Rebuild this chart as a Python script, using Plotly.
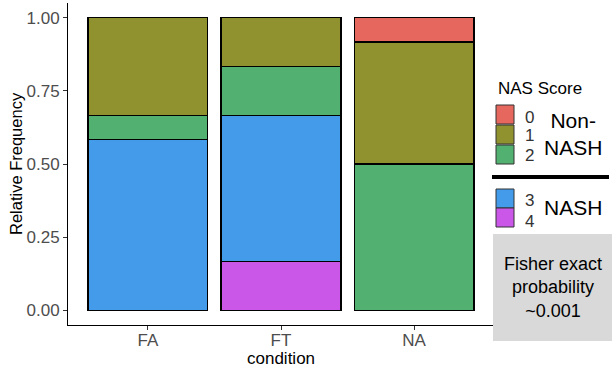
import plotly.graph_objects as go

conditions = ["FA", "FT", "NA"]
scores = ["4", "3", "2", "1", "0"]  # stacking order bottom -> top
freq = {
    "4": [0.0, 2/12, 0.0],
    "3": [7/12, 6/12, 0.0],
    "2": [1/12, 2/12, 6/12],
    "1": [4/12, 2/12, 5/12],
    "0": [0.0, 0.0, 1/12],
}
colors = {"0": "#E5675E", "1": "#909230", "2": "#52B070", "3": "#439BEA", "4": "#CB57E8"}
y_ticks = [0, 0.25, 0.5, 0.75, 1.0]
y_ticklabels = ["0.00", "0.25", "0.50", "0.75", "1.00"]

FONT = "Liberation Sans, Arial, sans-serif"
fig = go.Figure()
for s in scores:
    fig.add_trace(go.Bar(x=[1, 2, 3], y=freq[s], name=s, width=0.9,
                         marker=dict(color=colors[s], line=dict(color="black", width=1.2)),
                         showlegend=False))

W, H = 612, 367
L, R, T, B = 68, 118, 3, 42
fig.update_layout(
    width=W, height=H, barmode="stack",
    margin=dict(l=L, r=R, t=T, b=B, autoexpand=False),
    paper_bgcolor="white", plot_bgcolor="white",
    font=dict(family=FONT),
    xaxis=dict(range=[0.4, 3.6], tickvals=[1, 2, 3], ticktext=conditions, automargin=False,
               showline=True, linecolor="black", linewidth=1, showgrid=False, zeroline=False,
               ticks="outside", ticklen=4, tickcolor="#333333", ticklabelstandoff=-4,
               tickfont=dict(size=17, color="#4D4D4D", family=FONT)),
    yaxis=dict(range=[-0.05, 1.05], tickvals=y_ticks, ticktext=y_ticklabels, automargin=False,
               showline=True, linecolor="black", linewidth=1, showgrid=False, zeroline=False,
               ticks="outside", ticklen=4, tickcolor="#333333",
               tickfont=dict(size=17, color="#4D4D4D", family=FONT)),
)

PW, PH = W - L - R, H - T - B
def px(x):
    return (x - L) / PW
def py(y):
    return (H - B - y) / PH

shapes = []
annotations = []
# axis titles
annotations.append(dict(x=px(281), y=py(358), xref="paper", yref="paper", text="condition",
                        showarrow=False, xanchor="center", yanchor="middle",
                        font=dict(size=17, color="black", family=FONT)))
annotations.append(dict(x=px(16), y=py(164), xref="paper", yref="paper", text="Relative Frequency",
                        showarrow=False, xanchor="center", yanchor="middle", textangle=-90,
                        font=dict(size=16.5, color="black", family=FONT)))
# custom legend
annotations.append(dict(x=px(496), y=py(88), xref="paper", yref="paper", text="NAS Score",
                        showarrow=False, xanchor="left", yanchor="middle",
                        font=dict(size=17, color="black", family=FONT)))
legend_items = [("0", 105, 117), ("1", 125, 136), ("2", 145, 155), ("3", 189, 200), ("4", 208, 221)]
for s, top, ly in legend_items:
    shapes.append(dict(type="rect", xref="paper", yref="paper",
                       x0=px(496), x1=px(514), y0=py(top), y1=py(top + 19),
                       fillcolor=colors[s], line=dict(color="#333333", width=1)))
    annotations.append(dict(x=px(523), y=py(ly), xref="paper", yref="paper", text=s,
                            showarrow=False, xanchor="left", yanchor="middle",
                            font=dict(size=17, color="#333333", family=FONT)))
annotations.append(dict(x=px(573), y=py(134), xref="paper", yref="paper", text="Non-<br>NASH",
                        showarrow=False, xanchor="center", yanchor="middle",
                        font=dict(size=21, color="black", family=FONT)))
annotations.append(dict(x=px(573), y=py(207), xref="paper", yref="paper", text="NASH",
                        showarrow=False, xanchor="center", yanchor="middle",
                        font=dict(size=21, color="black", family=FONT)))
shapes.append(dict(type="line", xref="paper", yref="paper", x0=px(492), x1=px(609),
                   y0=py(177), y1=py(177), line=dict(color="black", width=4)))
shapes.append(dict(type="rect", xref="paper", yref="paper", x0=px(493), x1=px(612),
                   y0=py(234), y1=py(341), fillcolor="#D9D9D9", line=dict(width=0)))
annotations.append(dict(x=px(553), y=py(287), xref="paper", yref="paper",
                        text="Fisher exact<br>probability<br>~0.001",
                        showarrow=False, xanchor="center", yanchor="middle",
                        font=dict(size=18, color="black", family=FONT)))
fig.update_layout(shapes=shapes, annotations=annotations)

fig.write_html("out.html")
